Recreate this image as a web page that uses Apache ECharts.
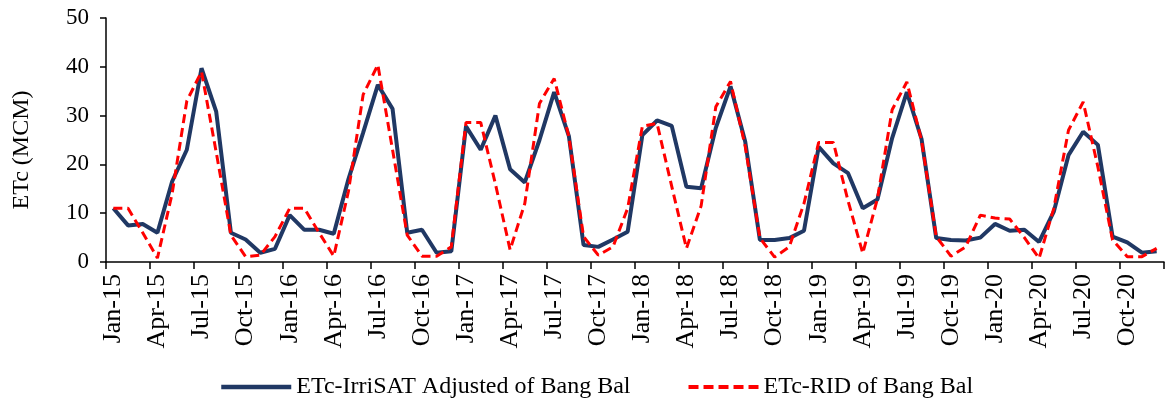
<!DOCTYPE html>
<html>
<head>
<meta charset="utf-8">
<script src="https://cdn.jsdelivr.net/npm/echarts@6/dist/echarts.min.js"></script>
<style>
html,body{margin:0;padding:0;background:#fff;}
#chart{width:1165px;height:403px;}
</style>
</head>
<body>
<div id="chart"></div>
<script>
const months = [
  'Jan-15','Feb-15','Mar-15','Apr-15','May-15','Jun-15','Jul-15','Aug-15','Sep-15','Oct-15','Nov-15','Dec-15',
  'Jan-16','Feb-16','Mar-16','Apr-16','May-16','Jun-16','Jul-16','Aug-16','Sep-16','Oct-16','Nov-16','Dec-16',
  'Jan-17','Feb-17','Mar-17','Apr-17','May-17','Jun-17','Jul-17','Aug-17','Sep-17','Oct-17','Nov-17','Dec-17',
  'Jan-18','Feb-18','Mar-18','Apr-18','May-18','Jun-18','Jul-18','Aug-18','Sep-18','Oct-18','Nov-18','Dec-18',
  'Jan-19','Feb-19','Mar-19','Apr-19','May-19','Jun-19','Jul-19','Aug-19','Sep-19','Oct-19','Nov-19','Dec-19',
  'Jan-20','Feb-20','Mar-20','Apr-20','May-20','Jun-20','Jul-20','Aug-20','Sep-20','Oct-20','Nov-20','Dec-20'
];
const irrisatAdjusted = [
  11, 7.5, 7.8, 6, 16.5, 23, 39.7, 30.8, 6, 4.6, 1.9, 2.7,
  9.6, 6.6, 6.6, 5.8, 17, 26.5, 36.3, 31.4, 6, 6.6, 1.9, 2.2,
  27.8, 23, 30, 19, 16.3, 25, 34.8, 25.8, 3.5, 3.1, 4.6, 6.2,
  26, 29, 27.9, 15.4, 15.1, 27.5, 36, 24.7, 4.5, 4.5, 4.9, 6.4,
  23.6, 20.2, 18.2, 11, 12.8, 25.4, 34.8, 25.2, 4.9, 4.5, 4.4, 5,
  7.8, 6.4, 6.6, 4.1, 10.3, 21.9, 26.7, 24, 5.2, 4, 1.9, 2.2
];
const ridValues = [
  11, 11, 6, 0.8, 14, 33, 39, 22.5, 5.5, 1.1, 1.4, 5.2,
  11, 11, 6, 1.2, 14.5, 34.3, 40.4, 23, 5.5, 1.2, 1.2, 3.1,
  28.6, 28.6, 16, 2.5, 12, 32.5, 37.6, 25.7, 5.2, 1.4, 3.1, 11,
  27.8, 28.4, 15.5, 2.8, 11.5, 31.8, 37, 23.7, 4.9, 1, 3.1, 12,
  24.5, 24.5, 12.5, 1.8, 13, 31.2, 36.9, 24.9, 5.2, 1.2, 3.1, 9.6,
  9, 8.8, 5, 0.75, 11, 27, 32.8, 19.5, 4.5, 1.1, 1.1, 2.8
];
const seriesNames = ['ETc-IrriSAT Adjusted of Bang Bal', 'ETc-RID of Bang Bal'];
const yAxisTitle = 'ETc (MCM)';

const font = 'Liberation Serif';
const chart = echarts.init(document.getElementById('chart'), null, {renderer: 'canvas'});
chart.setOption({
  animation: false,
  backgroundColor: '#ffffff',
  grid: {left: 106, right: 1, top: 18, bottom: 141, containLabel: false},
  legend: {
    left: 214, top: 370,
    itemWidth: 70, itemHeight: 14, itemGap: 56,
    itemStyle: {opacity: 0},
    textStyle: {fontFamily: font, fontSize: 24, color: '#000'},
    data: [
      {name: seriesNames[0], lineStyle: {width: 4.5, color: '#203864'}},
      {name: seriesNames[1], lineStyle: {width: 4, color: '#FF0000', type: [10, 5]}}
    ]
  },
  xAxis: {
    type: 'category',
    data: months,
    boundaryGap: true,
    axisLine: {lineStyle: {color: '#000', width: 1.5}},
    axisTick: {show: true, interval: 2, length: 7, lineStyle: {color: '#000', width: 1.5}},
    axisLabel: {interval: 2, rotate: 90, margin: 12, fontFamily: font, fontSize: 26, color: '#000'},
    splitLine: {show: false}
  },
  yAxis: {
    type: 'value',
    min: 0, max: 50, interval: 10,
    name: yAxisTitle,
    nameLocation: 'middle',
    nameGap: 72,
    nameRotate: 90,
    nameTextStyle: {fontFamily: font, fontSize: 24, color: '#000', padding: [0, 20, 0, 0]},
    axisLine: {show: true, lineStyle: {color: '#000', width: 1.5}},
    axisTick: {show: true, length: 6, lineStyle: {color: '#000', width: 1.5}},
    axisLabel: {margin: 17, fontFamily: font, fontSize: 23, color: '#000'},
    splitLine: {show: false}
  },
  series: [
    {
      name: seriesNames[0], type: 'line', data: irrisatAdjusted,
      symbol: 'none', showSymbol: false,
      lineStyle: {color: '#203864', width: 4},
      itemStyle: {color: '#203864'}
    },
    {
      name: seriesNames[1], type: 'line', data: ridValues,
      symbol: 'none', showSymbol: false,
      lineStyle: {color: '#FF0000', width: 3, type: [9, 5]},
      itemStyle: {color: '#FF0000'}
    }
  ]
});
</script>
</body>
</html>
